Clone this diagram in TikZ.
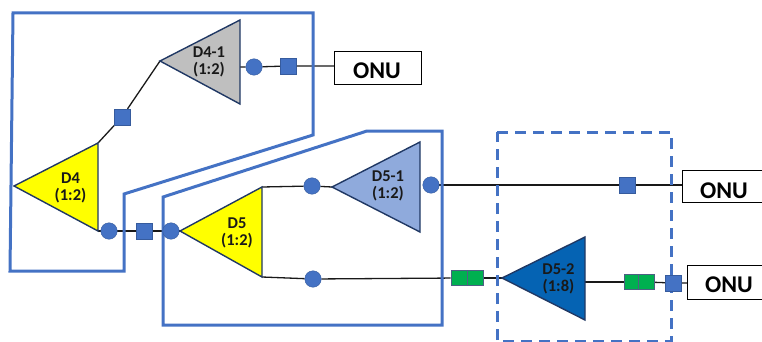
\documentclass[tikz,border=0pt]{standalone}
\usepackage{fontspec}
\setmainfont{Carlito}
\usetikzlibrary{backgrounds}
\definecolor{bluemain}{HTML}{4472C4}
\definecolor{edgenavy}{HTML}{203864}
\definecolor{tealblue}{HTML}{8FAADC}
\definecolor{deepblue}{HTML}{0563B3}
\definecolor{greenbox}{HTML}{00B050}
\definecolor{greytri}{HTML}{BFBFBF}
\definecolor{yellowtri}{HTML}{FFFF00}
\tikzset{
  region/.style={draw=bluemain,line width=3pt,line join=miter},
  regiondash/.style={region,dash pattern=on 11pt off 7pt},
  tri/.style={draw=edgenavy,line width=1.4pt,line join=miter},
  link/.style={draw=black!90,line width=1.3pt},
  dot/.style={circle,fill=bluemain,draw=bluemain!80!black,line width=.4pt,minimum size=16.5pt,inner sep=0pt},
  sq/.style={rectangle,fill=bluemain,draw=bluemain!80!black,line width=.4pt,minimum size=16pt,inner sep=0pt},
  grn/.style={rectangle,fill=greenbox,draw=edgenavy!80,line width=.9pt,minimum width=16pt,minimum height=15pt,inner sep=0pt},
  onu/.style={rectangle,draw=black,line width=1.3pt,fill=white,anchor=north west,inner sep=0pt},
  onutext/.style={font=\fontsize{24}{24}\selectfont\bfseries,inner sep=0pt},
  lab/.style={font=\fontsize{16.5}{16.5}\selectfont\bfseries,align=center,inner sep=0pt,text=black!90}
}
\begin{document}
\begin{tikzpicture}[x=1pt,y=-1pt]
\useasboundingbox (0,0) rectangle (762,342);
\clip (0,0) rectangle (762,342);
% triangle vertices
\coordinate (d4t) at (14,186);  \coordinate (d4u) at (98,143);  \coordinate (d4l) at (98,231);
\coordinate (d41t) at (160,61); \coordinate (d41u) at (240,20); \coordinate (d41l) at (240,104);
\coordinate (d5t) at (180,231); \coordinate (d5u) at (262,187); \coordinate (d5l) at (262,277);
\coordinate (d51t) at (332,187);\coordinate (d51u) at (420,142);\coordinate (d51l) at (420,232);
\coordinate (d52t) at (502,278);\coordinate (d52u) at (585,237);\coordinate (d52l) at (585,320);
\coordinate (d41o) at (240,67); \coordinate (d52o) at (585,282);
% nodes on links
\node[dot] (c1) at (254,67) {};
\node[sq]  (s1) at (288,66) {};
\node[sq]  (s2) at (122,117) {};
\node[dot] (c2) at (109,231) {};
\node[sq]  (s3) at (144,231) {};
\node[dot] (c3) at (171,231) {};
\node[dot] (c4) at (312,186) {};
\node[dot] (c5) at (313,279) {};
\node[dot] (c6) at (431,185) {};
\node[sq]  (s4) at (627,185) {};
\node[grn] (g1) at (459,278) {};
\node[grn] (g2) at (475,278) {};
\node[grn] (g3) at (632,282) {};
\node[grn] (g4) at (646,282) {};
\node[sq]  (s5) at (673,283) {};
\node[onu,minimum width=87pt,minimum height=33pt] (o1) at (334,51) {};
\node[onu,minimum width=90pt,minimum height=32pt] (o2) at (682,170) {};
\node[onu,minimum width=85pt,minimum height=34pt] (o3) at (687,265) {};
\node[onutext] (o1t) at (377,71) {ONU};
\node[onutext] (o2t) at (724,190.5) {ONU};
\node[onutext] (o3t) at (729,285) {ONU};
\begin{pgfonlayer}{background}
% links
\draw[link] (d4u) -- (s2) -- (d41t);
\draw[link] (d41o) -- (c1) -- (s1) -- (o1.west |- s1);
\draw[link] (d4l) -- (c2) -- (s3) -- (c3) -- (d5t);
\draw[link] (d5u) -- (c4) -- (d51t);
\draw[link] (d5l) -- (c5) -- (g1);
\draw[link] (g2) -- (d52t);
\draw[link] (c6) -- (s4) -- (o2.west |- s4);
\draw[link] (d52o) -- (g3);
\draw[link] (g4) -- (s5) -- (o3.west |- s5);
% regions
\draw[region] (13,13) -- (313,13) -- (313,135) -- (124,194) -- (124,271) -- (10,271) -- cycle;
\draw[region] (163,197) -- (367,131) -- (442,131) -- (442,325) -- (163,325) -- cycle;
\draw[regiondash] (497,132) -- (671,132) -- (671,341) -- (497,341) -- cycle;
\end{pgfonlayer}
% triangles
\draw[tri,fill=yellowtri] (d4t) -- (d4u) -- (d4l) -- cycle;
\draw[tri,fill=greytri] (d41t) -- (d41u) -- (d41l) -- cycle;
\draw[tri,fill=yellowtri] (d5t) -- (d5u) -- (d5l) -- cycle;
\draw[tri,fill=tealblue] (d51t) -- (d51u) -- (d51l) -- cycle;
\draw[tri,fill=deepblue] (d52t) -- (d52u) -- (d52l) -- cycle;
\node[lab] (l1) at (70.5,188) {D4\\(1:2)};
\node[lab] (l2) at (209,62) {D4-1\\(1:2)};
\node[lab] (l3) at (237,233) {D5\\(1:2)};
\node[lab] (l4) at (388,186) {D5-1\\(1:2)};
\node[lab] (l5) at (558.5,279) {D5-2\\(1:8)};
\end{tikzpicture}
\end{document}
